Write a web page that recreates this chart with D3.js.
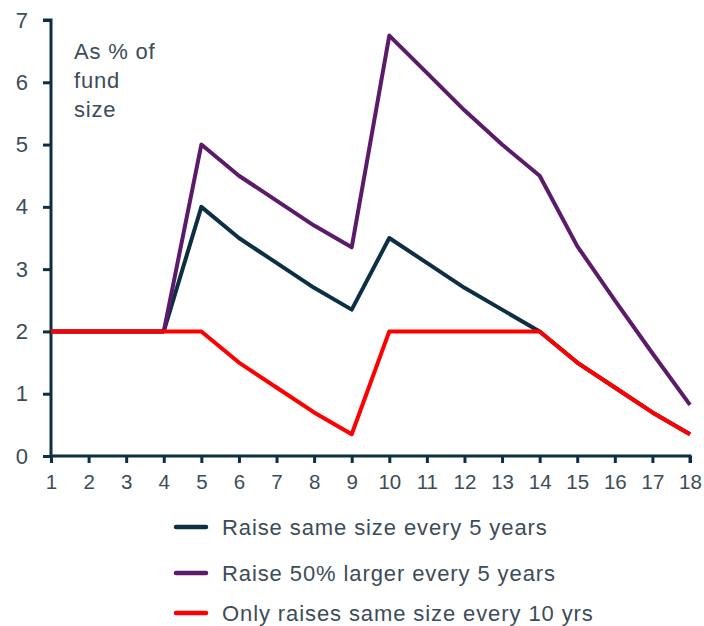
<!DOCTYPE html>
<html>
<head>
<meta charset="utf-8">
<script src="https://cdn.jsdelivr.net/npm/d3@7"></script>
<style>
  html, body { margin: 0; padding: 0; background: #fff; }
  svg { display: block; }
  text { font-family: "Liberation Sans", Arial, sans-serif; }
</style>
</head>
<body>
<svg id="chart" width="704" height="626"></svg>
<script>
// Fund years on the x axis
const years = [1, 2, 3, 4, 5, 6, 7, 8, 9, 10, 11, 12, 13, 14, 15, 16, 17, 18];
const yTicks = [0, 1, 2, 3, 4, 5, 6, 7];

// Management fees as % of fund size
const sameSizeEvery5 = [2, 2, 2, 2, 4.0, 3.5, 3.1, 2.7, 2.35, 3.5, 3.1, 2.7, 2.35, 2.0, 1.5, 1.1, 0.7, 0.35];
const largerEvery5   = [2, 2, 2, 2, 5.0, 4.5, 4.1, 3.7, 3.35, 6.75, 6.15, 5.55, 5.0, 4.5, 3.37, 2.5, 1.65, 0.82];
const sameSizeEvery10 = [2, 2, 2, 2, 2.0, 1.5, 1.1, 0.7, 0.35, 2.0, 2.0, 2.0, 2.0, 2.0, 1.5, 1.1, 0.7, 0.35];

const seriesNames = [
  "Raise same size every 5 years",
  "Raise 50% larger every 5 years",
  "Only raises same size every 10 yrs"
];
const seriesColors = ["#0c2f44", "#5c1a6a", "#ff0000"];
const seriesValues = [sameSizeEvery5, largerEvery5, sameSizeEvery10];

const axisColor = "#0c2f44";
const textColor = "#3d4c58";

const svg = d3.select("#chart");
const x = d3.scaleLinear().domain([1, 18]).range([51, 690]);
const y = d3.scaleLinear().domain([0, 7]).range([456, 20]);

// Axes
const yAxis = svg.append("g")
  .attr("transform", `translate(${x(1)},0)`)
  .call(d3.axisLeft(y).tickValues(yTicks).tickSize(8).tickPadding(15).tickFormat(d3.format("d")));
const xAxis = svg.append("g")
  .attr("transform", `translate(0,${y(0)})`)
  .call(d3.axisBottom(x).tickValues(years).tickSize(7).tickPadding(11).tickFormat(d3.format("d")));

[yAxis, xAxis].forEach(g => {
  g.select(".domain").attr("stroke", axisColor).attr("stroke-width", 3);
  g.selectAll(".tick line").attr("stroke", axisColor).attr("stroke-width", 3);
  g.selectAll(".tick text")
    .attr("fill", textColor)
    .style("font-family", "'Liberation Sans', Arial, sans-serif");
});
yAxis.selectAll(".tick text").style("font-size", "22px");
xAxis.selectAll(".tick text").style("font-size", "20.5px").attr("dy", "0.75em");
yAxis.select(".domain").attr("d", `M-8,${y(7)}H0V${y(0)}`);
xAxis.select(".domain").attr("d", `M${x(1)},0H${x(18)}V7`);

// Lines
const line = d3.line()
  .x((d, i) => x(years[i]))
  .y(d => y(d));

seriesValues.forEach((vals, k) => {
  svg.append("path")
    .datum(vals)
    .attr("fill", "none")
    .attr("stroke", seriesColors[k])
    .attr("stroke-width", 4)
    .attr("stroke-linejoin", "round")
    .attr("d", line);
});

// Unit note
const note = svg.append("text")
  .attr("x", 74)
  .attr("y", 59)
  .attr("fill", textColor)
  .style("font-size", "22px")
  .style("letter-spacing", "0.8px");
["As % of", "fund", "size"].forEach((t, i) => {
  note.append("tspan").attr("x", 74).attr("dy", i === 0 ? 0 : 29).text(t);
});

// Legend
const legendY = [527, 573, 613];
seriesNames.forEach((name, k) => {
  const g = svg.append("g").attr("transform", `translate(0,${legendY[k]})`);
  g.append("line")
    .attr("x1", 176).attr("x2", 206)
    .attr("y1", 0).attr("y2", 0)
    .attr("stroke", seriesColors[k])
    .attr("stroke-width", 4.5)
    .attr("stroke-linecap", "round");
  g.append("text")
    .attr("x", 222)
    .attr("y", 0)
    .attr("dy", "0.35em")
    .attr("fill", textColor)
    .style("font-size", "22px")
    .style("letter-spacing", "0.9px")
    .text(name);
});
</script>
</body>
</html>
